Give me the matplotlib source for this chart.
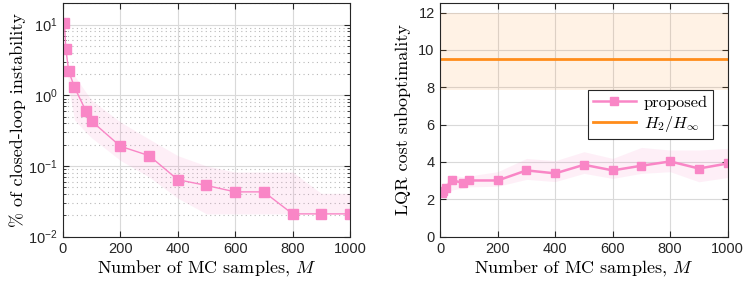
import numpy as np
import matplotlib
matplotlib.use("Agg")
import matplotlib.pyplot as plt
from matplotlib.ticker import LogLocator, NullFormatter

plt.rcParams["font.family"] = "Liberation Sans"
plt.rcParams["mathtext.fontset"] = "cm"

# Data
M = [5, 10, 20, 40, 80, 100, 200, 300, 400, 500, 600, 700, 800, 900, 1000]

instab = [10.6, 4.5, 2.2, 1.3, 0.6, 0.43, 0.19, 0.14, 0.064, 0.053, 0.043, 0.043, 0.021, 0.021, 0.021]
instab_hi = [10.6, 4.5, 2.4, 1.9, 1.1, 0.85, 0.42, 0.24, 0.14, 0.10, 0.082, 0.082, 0.082, 0.041, 0.041]
instab_lo = [10.6, 4.5, 1.3, 0.45, 0.3, 0.25, 0.12, 0.07, 0.035, 0.021, 0.021, 0.021, 0.021, 0.021, 0.021]

cost = [2.35, 2.44, 2.62, 3.03, 2.87, 3.01, 3.01, 3.55, 3.39, 3.85, 3.55, 3.80, 4.03, 3.65, 3.92]
cost_hi = [2.4, 2.6, 2.9, 3.3, 3.2, 3.25, 3.48, 4.19, 4.07, 4.55, 4.19, 4.78, 4.64, 4.64, 4.73]
cost_lo = [2.3, 2.35, 2.4, 2.5, 2.6, 2.67, 2.7, 3.07, 2.95, 3.39, 3.12, 3.39, 3.48, 2.94, 3.17]

h2hinf = 9.5
h2hinf_lo = 7.85
h2hinf_hi = 12.0

pink = "#f986c6"
orange = "#ff8c1a"
label_font = dict(family="cmr10", size=13)

fig = plt.figure(figsize=(7.47, 2.84), dpi=100)
ax1 = fig.add_axes([0.0843, 0.1667, 0.3842, 0.8216])
ax2 = fig.add_axes([0.5894, 0.1667, 0.3847, 0.8216])

# left: instability
ax1.fill_between(M, instab_lo, instab_hi, color=pink, alpha=0.13, lw=0)
ax1.plot(M, instab, color=pink, lw=1, marker="s", ms=6.5, mec=pink, mfc=pink)
ax1.set_yscale("log")
ax1.set_ylim(1e-2, 20)
ax1.yaxis.set_minor_locator(LogLocator(base=10, subs=np.arange(2, 10)))
ax1.yaxis.set_minor_formatter(NullFormatter())
ax1.set_ylabel("% of closed-loop instability", fontdict=label_font, labelpad=1)
ax1.grid(True, which="major", color="#d9d9d9", lw=0.8)
ax1.grid(True, which="minor", axis="y", color="#b8b8b8", lw=0.8, ls=(0, (1, 3)))

# right: cost
ax2.fill_between([0, 1000], h2hinf_lo, h2hinf_hi, color=orange, alpha=0.11, lw=0)
ax2.plot([0, 1000], [h2hinf, h2hinf], color=orange, lw=2, label=r"$H_2/H_\infty$")
ax2.fill_between(M, cost_lo, cost_hi, color=pink, alpha=0.13, lw=0)
ax2.plot(M, cost, color=pink, lw=1.8, marker="s", ms=6, mec=pink, mfc=pink, label="proposed")
ax2.set_ylim(0, 12.5)
ax2.set_yticks([0, 2, 4, 6, 8, 10, 12])
ax2.set_ylabel("LQR cost suboptimality", fontdict=label_font, labelpad=5)
ax2.grid(True, which="major", color="#d9d9d9", lw=0.8)
h, l = ax2.get_legend_handles_labels()
leg = ax2.legend(h[::-1], l[::-1], loc="upper right", bbox_to_anchor=(0.949, 0.627),
                 borderaxespad=0, prop=dict(family="cmr10", size=11.8), frameon=True,
                 fancybox=False, edgecolor="#262626", framealpha=1, handlelength=2.6,
                 borderpad=0.3, labelspacing=0.25, handletextpad=0.5)
leg.get_frame().set_linewidth(0.8)

for ax in (ax1, ax2):
    ax.set_xlim(0, 1000)
    ax.set_xticks([0, 200, 400, 600, 800, 1000])
    ax.set_xlabel("Number of MC samples, $M$", fontdict=label_font, labelpad=1)
    ax.set_axisbelow(True)
    ax.tick_params(which="both", direction="in", top=True, right=True, labelsize=10.5,
                   color="#262626", labelcolor="#262626", pad=4)
    ax.tick_params(which="major", length=4)
    ax.tick_params(which="minor", length=2)
    for s in ax.spines.values():
        s.set_color("#262626")
        s.set_linewidth(0.8)

fig.savefig("out.png", dpi=100)
